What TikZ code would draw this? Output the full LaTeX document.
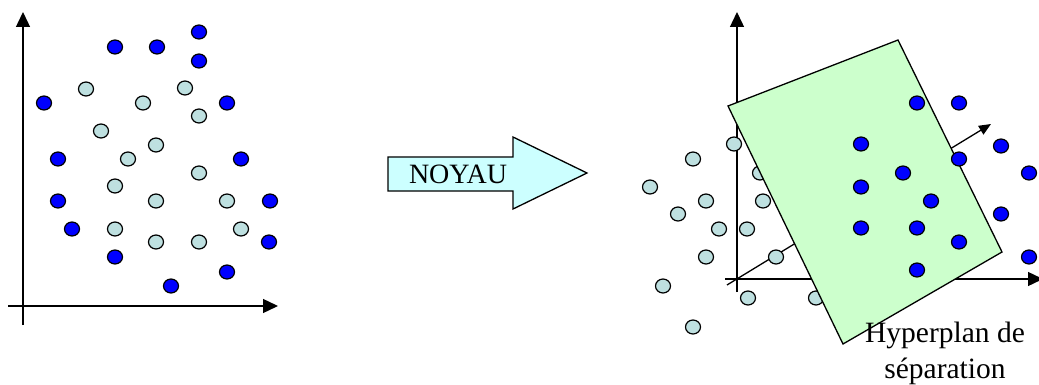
\documentclass[tikz,border=0pt]{standalone}
\usepackage{fontspec}
\setmainfont{Liberation Serif}
\usetikzlibrary{arrows.meta,shapes.geometric}
\definecolor{dkblue}{RGB}{0,0,255}
\definecolor{ltdot}{RGB}{190,224,224}
\definecolor{planegreen}{RGB}{204,255,204}
\definecolor{arrcyan}{RGB}{204,255,255}
\begin{document}
\begin{tikzpicture}[x=1pt,y=-1pt,
  dotbase/.style={ellipse,draw=black,line width=1.2pt,minimum width=15pt,minimum height=14pt,inner sep=0pt},
  dk/.style={dotbase,fill=dkblue},
  lt/.style={dotbase,fill=ltdot},
  axisline/.style={line width=1.4pt,-{Triangle[length=15pt,width=14pt]}},
  diagaxis/.style={line width=1.3pt,-{Triangle[length=12pt,width=10pt]}},
  planestyle/.style={draw=black,line width=1.3pt,fill=planegreen},
  arrowbox/.style={draw=black,line width=1.3pt,fill=arrcyan},
  label/.style={font=\fontsize{29.5}{35}\selectfont,anchor=base,inner sep=0pt},
  arrlabel/.style={font=\fontsize{28}{33}\selectfont,anchor=base,inner sep=0pt}]
\useasboundingbox (0,0) rectangle (1039,385);
% ---------- left panel ----------
\coordinate (lyb) at (23,325);
\coordinate (lyt) at (23,12);
\coordinate (lxl) at (8,306);
\coordinate (lxr) at (278,306);
\draw[axisline] (lyb) -- (lyt);
\draw[axisline] (lxl) -- (lxr);
\foreach \p [count=\i] in {(86,89),(143,103),(185,88),(199,116),(101,131),(156,145),(128,159),(199,173),(115,186),(156,201),(227,201),(115,229),(241,229),(156,242),(199,242)}
  \node[lt] (ll\i) at \p {};
\foreach \p [count=\i] in {(199,32),(115,47),(157,47),(199,61),(44,103),(227,103),(58,159),(241,159),(58,201),(270,201),(72,229),(269,242),(115,257),(227,272),(171,286)}
  \node[dk] (ld\i) at \p {};
% ---------- NOYAU arrow ----------
\coordinate (a1) at (388,157);
\coordinate (a2) at (513,157);
\coordinate (a3) at (513,137);
\coordinate (a4) at (587,173);
\coordinate (a5) at (513,209);
\coordinate (a6) at (513,191);
\coordinate (a7) at (388,191);
\draw[arrowbox] (a1) -- (a2) -- (a3) -- (a4) -- (a5) -- (a6) -- (a7) -- cycle;
\node[arrlabel] (noyau) at (458,183) {NOYAU};
% ---------- right panel ----------
\coordinate (ryb) at (737,292);
\coordinate (ryt) at (737,12);
\coordinate (rxl) at (725,279);
\coordinate (rxr) at (1043,279);
\coordinate (rdl) at (727,285);
\coordinate (rdr) at (991,124);
\draw[axisline] (ryb) -- (ryt);
\draw[axisline] (rxl) -- (rxr);
\draw[diagaxis] (rdl) -- (rdr);
\foreach \p [count=\i] in {(734,144),(693,159),(760,173),(650,187),(706,201),(763,201),(678,214),(719,229),(747,229),(706,257),(776,257),(663,286),(748,298),(816,298),(693,327)}
  \node[lt] (rl\i) at \p {};
\coordinate (p1) at (728,106);
\coordinate (p2) at (898,40);
\coordinate (p3) at (1002,252);
\coordinate (p4) at (843,344);
\draw[planestyle] (p1) -- (p2) -- (p3) -- (p4) -- cycle;
\foreach \p [count=\i] in {(917,103),(959,103),(861,144),(1001,146),(959,159),(903,173),(1029,173),(861,187),(931,201),(1001,214),(861,228),(917,228),(959,242),(1029,257),(917,270)}
  \node[dk] (rd\i) at \p {};
\node[label] (hyp1) at (945,342) {Hyperplan de};
\node[label] (hyp2) at (945,378) {séparation};
\end{tikzpicture}
\end{document}
